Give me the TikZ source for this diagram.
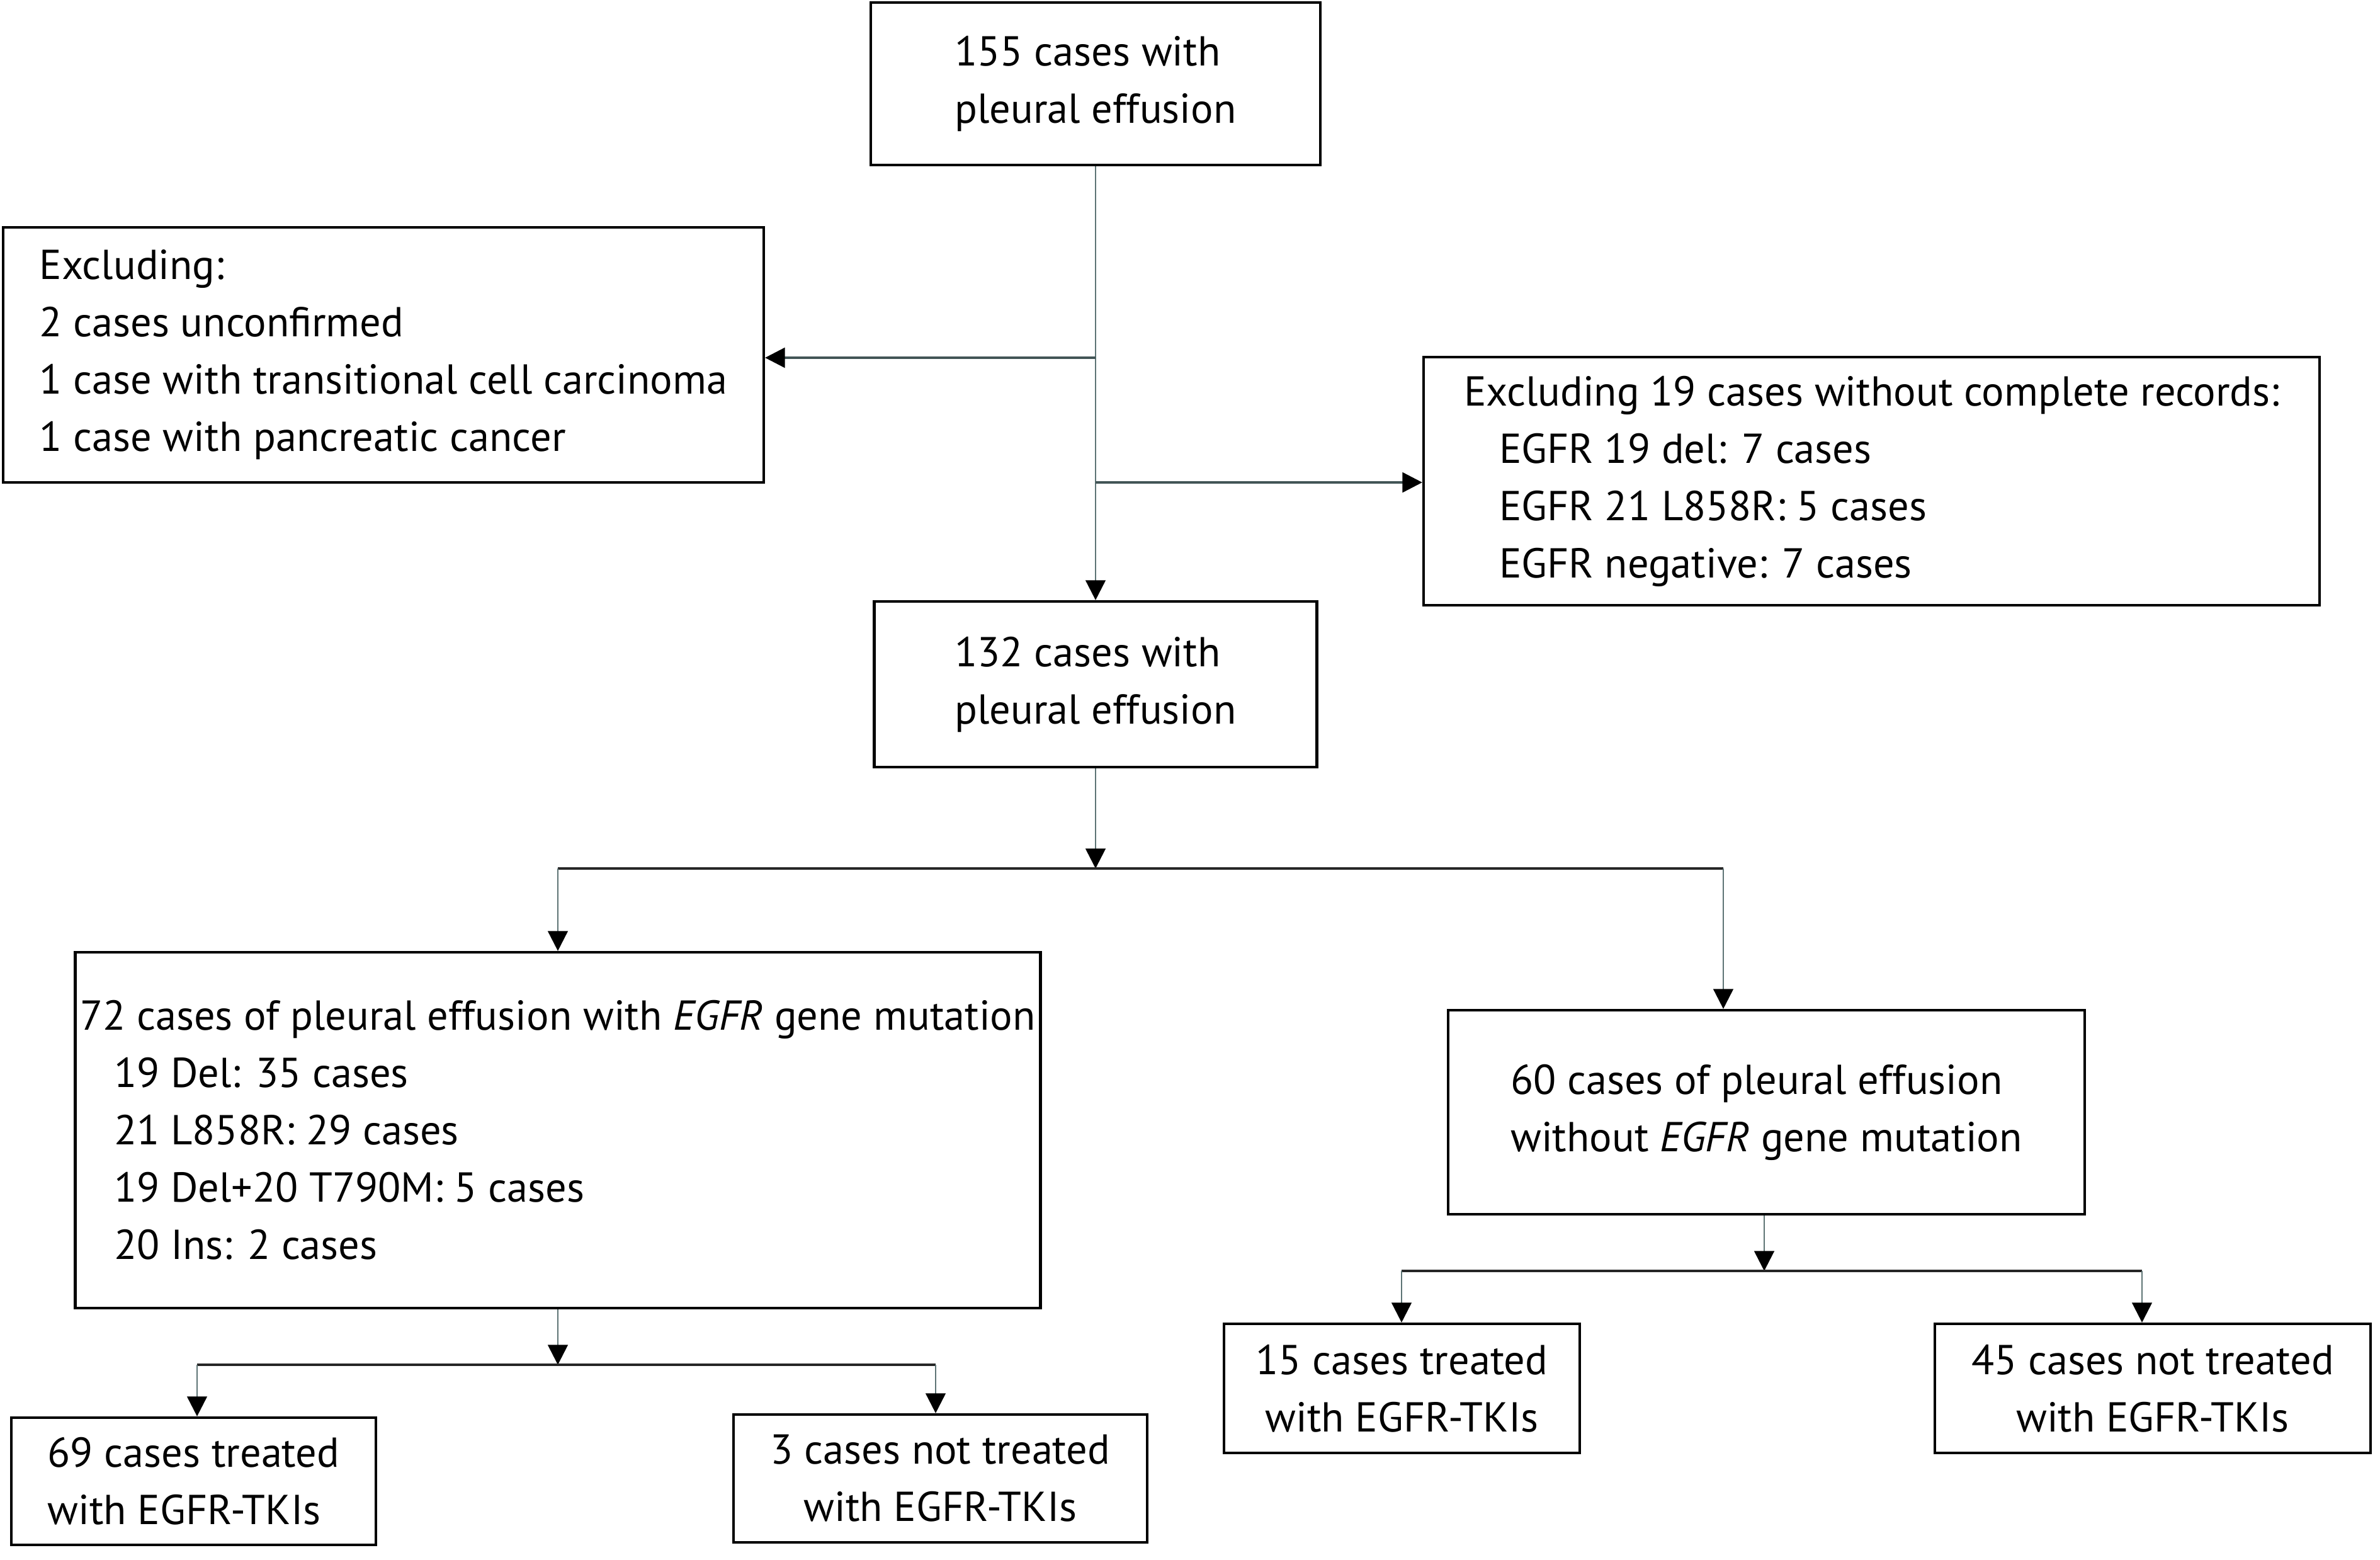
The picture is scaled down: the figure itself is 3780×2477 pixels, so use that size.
\documentclass[tikz,border=0pt]{standalone}
\usepackage{fontspec}
\setmainfont{PT Sans}
\usetikzlibrary{arrows.meta}

\definecolor{lnk}{HTML}{5E7475}
\definecolor{lnkdark}{HTML}{425556}
\tikzset{
  box/.style={draw=black, line width=1.2pt, align=left, inner sep=0pt,
    font=\fontsize{18.9}{25.9}\selectfont},
  flow/.style={draw=lnk, line width=0.8pt, -{Triangle[width=9pt,length=9pt,color=black]}},
  side/.style={draw=lnkdark, line width=1.1pt, -{Triangle[width=9pt,length=9pt,color=black]}},
  bar/.style={draw=black!85, line width=0.9pt},
}

\begin{document}
\begin{tikzpicture}[x=0.1mm,y=-0.1mm]
\useasboundingbox (0,0) rectangle (3780,2477);
\node[box, minimum width=71.4mm, minimum height=25.8mm] (top) at (1740,133) {155 cases with\\pleural effusion};
\node[box, minimum width=120.8mm, minimum height=40.5mm] (excl) at (609,563.5) {Excluding:\\2 cases unconfirmed\\1 case with transitional cell carcinoma\\1 case with pancreatic cancer};
\node[box, minimum width=142.3mm, minimum height=39.4mm] (recs) at (2972.5,764) {Excluding 19 cases without complete records:\\\hspace*{5.6mm}EGFR 19 del: 7 cases\\\hspace*{5.6mm}EGFR 21 L858R: 5 cases\\\hspace*{5.6mm}EGFR negative: 7 cases};
\node[box, minimum width=70.3mm, minimum height=26.3mm] (mid) at (1740,1086.5) {132 cases with\\pleural effusion};
\node[box, minimum width=153.3mm, minimum height=56.5mm] (mut) at (886,1794.5) {72 cases of pleural effusion with \textit{EGFR} gene mutation\\\hspace*{5.4mm}19 Del: 35 cases\\\hspace*{5.4mm}21 L858R: 29 cases\\\hspace*{5.4mm}19 Del+20 T790M: 5 cases\\\hspace*{5.4mm}20 Ins: 2 cases};
\node[box, minimum width=101.1mm, minimum height=32.4mm] (nomut) at (2805.5,1766) {60 cases of pleural effusion\\without \textit{EGFR} gene mutation};
\node[box, minimum width=57.9mm, minimum height=20.2mm] (t69) at (307.5,2352) {69 cases treated\\with EGFR-TKIs};
\node[box, align=center, minimum width=65.7mm, minimum height=20.3mm] (n3) at (1493.5,2347.5) {3 cases not treated\\with EGFR-TKIs};
\node[box, align=center, minimum width=56.5mm, minimum height=20.5mm] (t15) at (2226.5,2204.5) {15 cases treated\\with EGFR-TKIs};
\node[box, align=center, minimum width=69.2mm, minimum height=20.5mm] (n45) at (3419,2204.5) {45 cases not treated\\with EGFR-TKIs};

% exclusions
\coordinate (j1) at (1740,568);
\coordinate (j2) at (1740,766);
\draw[flow] (top.south) -- (mid.north);
\draw[side] (j1) -- (j1 -| excl.east);
\draw[side] (j2) -- (j2 -| recs.west);

% split by mutation
\coordinate (s1) at (1740,1379);
\coordinate (s1l) at (886,1379);
\coordinate (s1r) at (2737,1379);
\draw[flow] (mid.south) -- (s1);
\draw[bar] (s1l) -- (s1r);
\draw[flow] (s1l) -- (mut.north);
\draw[flow] (s1r) -- (s1r |- nomut.north);

% treatment
\coordinate (s2) at (886,2167);
\coordinate (s2l) at (313,2167);
\coordinate (s2r) at (1486,2167);
\draw[flow] (mut.south) -- (s2);
\draw[bar] (s2l) -- (s2r);
\draw[flow] (s2l) -- (s2l |- t69.north);
\draw[flow] (s2r) -- (s2r |- n3.north);

\coordinate (s3) at (2802,2018);
\coordinate (s3l) at (2226,2018);
\coordinate (s3r) at (3402,2018);
\draw[flow] (s3 |- nomut.south) -- (s3);
\draw[bar] (s3l) -- (s3r);
\draw[flow] (s3l) -- (s3l |- t15.north);
\draw[flow] (s3r) -- (s3r |- n45.north);
\end{tikzpicture}
\end{document}
